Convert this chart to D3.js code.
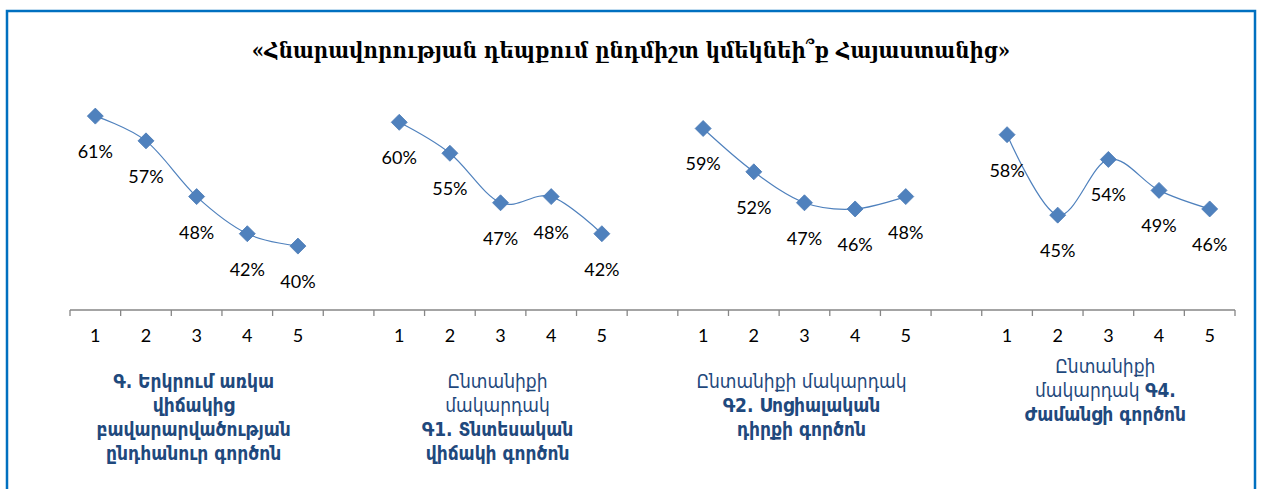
<!DOCTYPE html>
<html>
<head>
<meta charset="utf-8">
<script src="https://cdn.jsdelivr.net/npm/d3@7"></script>
<style>
  body { margin: 0; background: #fff; }
  svg { display: block; }
</style>
</head>
<body>
<div id="chart"></div>
<script>
// data
var categories = ["1", "2", "3", "4", "5"];
var seriesG  = [61, 57, 48, 42, 40];
var seriesG1 = [60, 55, 47, 48, 42];
var seriesG2 = [59, 52, 47, 46, 48];
var seriesG4 = [58, 45, 54, 49, 46];

var title = "«Հնարավորության դեպքում ընդմիշտ կմեկնեի՞ք Հայաստանից»";

// each group label: lines made of [text, bold] pieces
var labelG  = [[["Գ. Երկրում առկա", 1]], [["վիճակից", 1]], [["բավարարվածության", 1]], [["ընդհանուր գործոն", 1]]];
var labelG1 = [[["Ընտանիքի", 0]], [["մակարդակ", 0]], [["Գ1. Տնտեսական", 1]], [["վիճակի գործոն", 1]]];
var labelG2 = [[["Ընտանիքի մակարդակ", 0]], [["Գ2. Սոցիալական", 1]], [["դիրքի գործոն", 1]]];
var labelG4 = [[["Ընտանիքի", 0]], [["մակարդակ ", 0], ["Գ4.", 1]], [["Ժամանցի գործոն", 1]]];

var groups = [
  {values: seriesG,  label: labelG,  top: 388},
  {values: seriesG1, label: labelG1, top: 388},
  {values: seriesG2, label: labelG2, top: 388},
  {values: seriesG4, label: labelG4, top: 373}
];

var W = 1262, H = 489;
var blue = "#4F81BD";
var textBlue = "#1F497D";

var svg = d3.select("#chart").append("svg")
  .attr("width", W)
  .attr("height", H);

// outer frame
svg.append("rect")
  .attr("x", 7).attr("y", 11)
  .attr("width", 1248).attr("height", 520)
  .attr("fill", "none")
  .attr("stroke", "#0070C0")
  .attr("stroke-width", 2.5);

svg.append("text")
  .attr("x", 631)
  .attr("y", 58)
  .attr("text-anchor", "middle")
  .style("font-family", "'DejaVu Serif Condensed', 'DejaVu Serif', serif")
  .style("font-stretch", "condensed")
  .style("font-weight", "bold")
  .style("font-size", "22px")
  .attr("fill", "#000")
  .text(title);

// slots: 5 categories per group, one empty slot between groups
var slots = [];
groups.forEach(function(g, gi) {
  categories.forEach(function(c) { slots.push({key: gi + "-" + c, label: c, group: gi}); });
  if (gi < groups.length - 1) slots.push({key: "gap" + gi, label: "", group: -1});
});

var x = d3.scaleBand()
  .domain(slots.map(function(d) { return d.key; }))
  .range([70, 1235])
  .padding(0);

var y = d3.scaleLinear()
  .domain([30, 70])
  .range([308, 60.4]);

// category axis
var axisY = 310;
svg.append("line")
  .attr("x1", x.range()[0]).attr("x2", x.range()[1])
  .attr("y1", axisY).attr("y2", axisY)
  .attr("stroke", "#868686").attr("stroke-width", 1.3);

var tickPos = slots.map(function(d) { return x(d.key); }).concat([x.range()[1]]);
svg.selectAll(".tick")
  .data(tickPos)
  .enter().append("line")
  .attr("class", "tick")
  .attr("x1", function(d) { return d; }).attr("x2", function(d) { return d; })
  .attr("y1", axisY).attr("y2", axisY + 6)
  .attr("stroke", "#868686").attr("stroke-width", 1.3);

svg.selectAll(".catlabel")
  .data(slots.filter(function(d) { return d.label !== ""; }))
  .enter().append("text")
  .attr("class", "catlabel")
  .attr("x", function(d) { return x(d.key) + x.bandwidth() / 2; })
  .attr("y", 342)
  .attr("text-anchor", "middle")
  .style("font-family", "Lato, 'Open Sans', sans-serif")
  .style("font-size", "18px")
  .attr("fill", "#000")
  .text(function(d) { return d.label; });

var line = d3.line()
  .x(function(d) { return d.x; })
  .y(function(d) { return y(d.v); })
  .curve(d3.curveCardinal.tension(0));

var diamond = "M0,-8L8,0L0,8L-8,0Z";

groups.forEach(function(g, gi) {
  var pts = g.values.map(function(v, i) {
    return {x: x(gi + "-" + categories[i]) + x.bandwidth() / 2, v: v};
  });

  var gg = svg.append("g").attr("class", "series");

  gg.append("path")
    .datum(pts)
    .attr("d", line)
    .attr("fill", "none")
    .attr("stroke", blue)
    .attr("stroke-width", 1.2);

  gg.selectAll(".marker")
    .data(pts)
    .enter().append("path")
    .attr("class", "marker")
    .attr("d", diamond)
    .attr("transform", function(d) { return "translate(" + d.x + "," + y(d.v) + ")"; })
    .attr("fill", blue)
    .attr("stroke", "#4a7ab5")
    .attr("stroke-width", 0.8);

  gg.selectAll(".dlabel")
    .data(pts)
    .enter().append("text")
    .attr("class", "dlabel")
    .attr("x", function(d) { return d.x; })
    .attr("y", function(d) { return y(d.v) + 42; })
    .attr("text-anchor", "middle")
    .style("font-family", "Lato, 'Open Sans', sans-serif")
    .style("font-size", "18px")
    .attr("fill", "#000")
    .text(function(d) { return d.v + "%"; });

  // group label under the axis
  var cx = (x(gi + "-1") + x(gi + "-5") + x.bandwidth()) / 2 - 3;
  var t = svg.append("text")
    .attr("text-anchor", "middle")
    .style("font-family", "'DejaVu Sans Condensed', 'DejaVu Sans', sans-serif")
    .style("font-stretch", "condensed")
    .style("font-size", "19px")
    .attr("fill", textBlue);
  g.label.forEach(function(ln, li) {
    ln.forEach(function(piece, pi) {
      var ts = t.append("tspan")
        .style("font-weight", piece[1] ? "bold" : "normal")
        .text(piece[0]);
      if (pi === 0) ts.attr("x", cx).attr("y", g.top + li * 24);
    });
  });
});
</script>
</body>
</html>
